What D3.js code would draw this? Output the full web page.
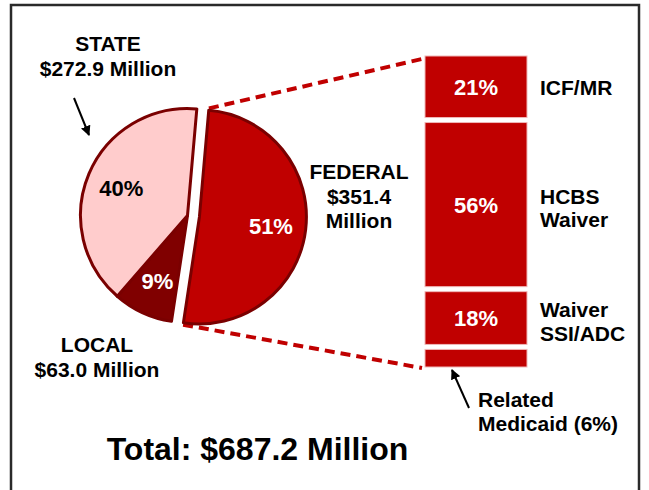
<!DOCTYPE html>
<meta charset="utf-8">
<head>
	<style type="text/css">
		body { margin: 0; background: #fff; }
		text { font-family: Arial, "Liberation Sans", sans-serif; font-weight: bold; }
	</style>
	<title>Funding Sources</title>
</head>

<script src="https://d3js.org/d3.v7.min.js"></script>

<svg width="649" height="490" id="svg1"></svg>

<script>
	// pie slices, clockwise from the top
	const sources = ['FEDERAL', 'LOCAL', 'STATE'];
	const sourceShares = [51, 9, 40];
	const sourceAmounts = ['$351.4', '$63.0', '$272.9'];

	// breakdown of the federal slice
	const federalUses = ['ICF/MR', 'HCBS Waiver', 'Waiver SSI/ADC', 'Related Medicaid'];
	const federalShares = [21, 56, 18, 6];

	const totalAmount = '$687.2';

	const svg1 = d3.select('#svg1');

	// frame
	svg1.append('rect')
		.attr('x', 11).attr('y', 5)
		.attr('width', 628).attr('height', 500)
		.attr('fill', 'none')
		.attr('stroke', '#2a2a2a')
		.attr('stroke-width', 2.5);

	svg1.append('defs').append('marker')
		.attr('id', 'arrow')
		.attr('viewBox', '0 0 10 10')
		.attr('refX', 9).attr('refY', 5)
		.attr('markerWidth', 5).attr('markerHeight', 5)
		.attr('orient', 'auto')
		.append('path')
			.attr('d', 'M0,0 L10,5 L0,10 z')
			.attr('fill', 'black');

	// pie
	const cx = 187.5, cy = 215.5, r = 107, explode = 12;
	const fills = {FEDERAL: '#c00000', LOCAL: '#800000', STATE: '#ffcccc'};
	const labelColor = {FEDERAL: 'white', LOCAL: 'white', STATE: 'black'};

	const pie = d3.pie().sort(null)
		.startAngle(5 * Math.PI / 180)
		.endAngle(365 * Math.PI / 180)
		.value(d => d);
	const slices = pie(sourceShares);
	const arc = d3.arc().innerRadius(0).outerRadius(r);
	const labelArc = d3.arc().innerRadius(72).outerRadius(72);

	const offset = (d, i) => {
		if (sources[i] != 'FEDERAL') return [0, 0];
		const mid = (d.startAngle + d.endAngle) / 2;
		return [explode * Math.sin(mid), -explode * Math.cos(mid)];
	};

	// bars on the right
	const barX = 425, barW = 102, barTop = 56, barBottom = 367, gap = 5;
	const yBar = d3.scaleLinear()
		.domain([0, d3.sum(federalShares)])
		.range([0, barBottom - barTop - gap * (federalShares.length - 1)]);
	let acc = 0;
	const bars = federalShares.map((v, i) => {
		const y0 = barTop + yBar(acc) + i * gap;
		acc += v;
		return {name: federalUses[i], value: v, y0: y0, h: yBar(v)};
	});

	// dashed connectors from the federal slice to the bar
	const fed = slices[0];
	const fo = offset(fed, 0);
	const edge = (a, rr) => [cx + fo[0] + rr * Math.sin(a), cy + fo[1] - rr * Math.cos(a)];
	const pTop = edge(fed.startAngle, r + 2);
	const pBot = edge(fed.endAngle, r + 2);
	const connectors = [
		[pTop, [barX - 3, barTop + 3]],
		[pBot, [barX - 3, barBottom + 1]]
	];
	svg1.selectAll('line.connector')
		.data(connectors)
		.enter()
			.append('line')
				.attr('class', 'connector')
				.attr('x1', d => d[0][0]).attr('y1', d => d[0][1])
				.attr('x2', d => d[1][0]).attr('y2', d => d[1][1])
				.attr('stroke', '#c00000')
				.attr('stroke-width', 4)
				.attr('stroke-dasharray', '10,6');

	const g = svg1.append('g').attr('transform', `translate(${cx},${cy})`);

	g.selectAll('path')
		.data(slices)
		.enter()
			.append('path')
				.attr('transform', (d, i) => `translate(${offset(d, i)})`)
				.attr('d', arc)
				.attr('fill', (d, i) => fills[sources[i]])
				.attr('stroke', '#7a0000')
				.attr('stroke-width', 3)
				.attr('stroke-linejoin', 'round');

	g.selectAll('text')
		.data(slices)
		.enter()
			.append('text')
				.attr('transform', (d, i) => {
					const c = labelArc.centroid(d);
					const o = offset(d, i);
					return `translate(${c[0] + o[0]},${c[1] + o[1]})`;
				})
				.attr('text-anchor', 'middle')
				.attr('dy', '0.38em')
				.attr('font-size', 22)
				.attr('fill', (d, i) => labelColor[sources[i]])
				.text(d => d.data + '%');

	// slice captions
	const captionPos = {
		STATE: {x: 108, y: 51, lines: d => [d.name, d.amount + ' Million']},
		LOCAL: {x: 97, y: 352, lines: d => [d.name, d.amount + ' Million']},
		FEDERAL: {x: 359, y: 179, lines: d => [d.name, d.amount, 'Million']}
	};
	sources.forEach((s, i) => {
		const p = captionPos[s];
		const t = svg1.append('text')
			.attr('text-anchor', 'middle')
			.attr('font-size', 21)
			.attr('fill', 'black');
		p.lines({name: s, amount: sourceAmounts[i]}).forEach((line, j) => {
			t.append('tspan').attr('x', p.x).attr('y', p.y + j * 24.5).text(line);
		});
	});

	const bg = svg1.selectAll('g.bar')
		.data(bars)
		.enter()
			.append('g')
				.attr('class', 'bar');

	bg.append('rect')
		.attr('x', barX)
		.attr('y', d => d.y0)
		.attr('width', barW)
		.attr('height', d => d.h)
		.attr('fill', '#c00000')
		.attr('stroke', '#f0b8b8')
		.attr('stroke-width', 1);

	bg.filter(d => d.value > 10)
		.append('text')
			.attr('x', barX + barW / 2)
			.attr('y', d => d.y0 + d.h / 2 + 8)
			.attr('text-anchor', 'middle')
			.attr('font-size', 22)
			.attr('fill', 'white')
			.text(d => d.value + '%');

	// labels to the right of the bars
	const sideLabels = {
		'ICF/MR': ['ICF/MR'],
		'HCBS Waiver': ['HCBS', 'Waiver'],
		'Waiver SSI/ADC': ['Waiver', 'SSI/ADC']
	};
	bg.filter(d => sideLabels[d.name])
		.each(function(d) {
			const lines = sideLabels[d.name];
			const t = d3.select(this).append('text')
				.attr('font-size', 21)
				.attr('fill', 'black');
			const base = d.y0 + d.h / 2 + (lines.length == 1 ? 8 : -1);
			lines.forEach((line, j) => {
				t.append('tspan').attr('x', 540).attr('y', base + j * 23.5).text(line);
			});
		});

	// small bar gets a pointer label
	const last = bars[bars.length - 1];
	const rel = svg1.append('text').attr('font-size', 21).attr('fill', 'black');
	rel.append('tspan').attr('x', 478).attr('y', 407).text('Related');
	rel.append('tspan').attr('x', 478).attr('y', 431).text('Medicaid (' + last.value + '%)');

	svg1.append('line')
		.attr('x1', 469).attr('y1', 408)
		.attr('x2', 452).attr('y2', last.y0 + last.h + 3)
		.attr('stroke', 'black').attr('stroke-width', 2)
		.attr('marker-end', 'url(#arrow)');

	svg1.append('line')
		.attr('x1', 74).attr('y1', 98)
		.attr('x2', 89).attr('y2', 135)
		.attr('stroke', 'black').attr('stroke-width', 2)
		.attr('marker-end', 'url(#arrow)');

	svg1.append('text')
		.attr('x', 257.5).attr('y', 460)
		.attr('text-anchor', 'middle')
		.attr('font-size', 32)
		.attr('fill', 'black')
		.text('Total: ' + totalAmount + ' Million');
</script>
